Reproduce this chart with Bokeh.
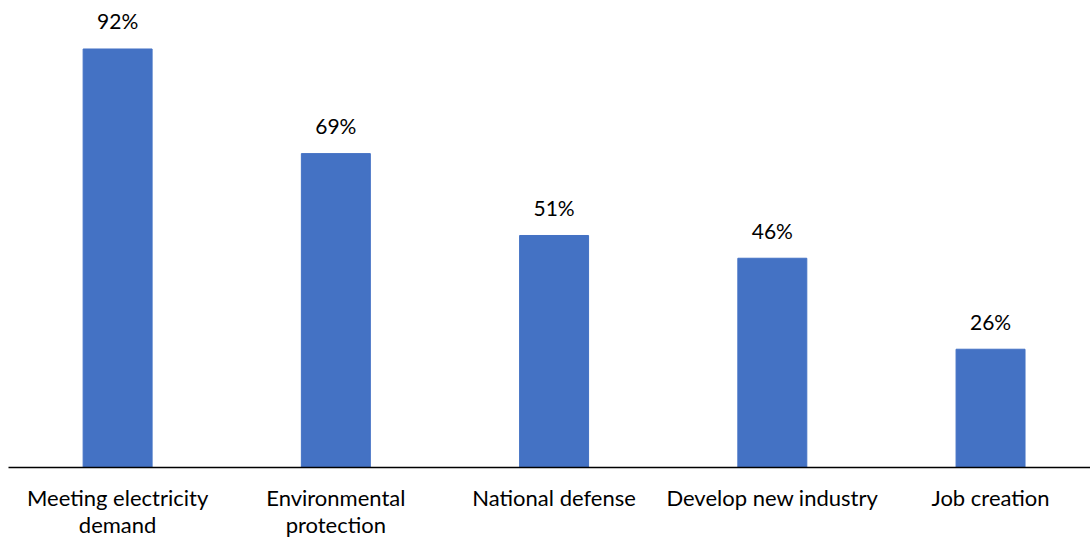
from bokeh.plotting import figure
from bokeh.models import ColumnDataSource, FixedTicker, Range1d
from bokeh.embed import file_html
from bokeh.resources import INLINE
from bokeh.core.properties import value

categories = ["Meeting electricity\ndemand", "Environmental\nprotection", "National defense",
              "Develop new industry", "Job creation"]
shares = [92, 69, 51, 46, 26]
labels = ["92%", "69%", "51%", "46%", "26%"]

xs = [i + 0.5 for i in range(len(categories))]
src = ColumnDataSource(dict(x=xs, top=shares, label=labels))

p = figure(width=1090, height=540, output_backend="svg", toolbar_location=None,
           x_range=Range1d(0, 4.958), y_range=Range1d(0, 100.9),
           min_border_left=8, min_border_right=0, min_border_top=8, min_border_bottom=73)
p.vbar(x="x", top="top", bottom=0, width=0.316, source=src, color="#4472C4")
p.text(x="x", y="top", text="label", source=src, text_align="center",
       text_baseline="alphabetic", y_offset=-28, text_font=value("Lato"),
       text_font_size="21px", text_color="#000000")

p.xaxis.ticker = FixedTicker(ticks=xs)
p.xaxis.major_label_overrides = {x: c for x, c in zip(xs, categories)}
p.xaxis.major_tick_line_color = None
p.xaxis.minor_tick_line_color = None
p.xaxis.major_tick_out = 0
p.xaxis.major_label_standoff = 16
p.xaxis.major_label_text_font = "Lato"
p.xaxis.major_label_text_font_size = "22px"
p.xaxis.major_label_text_line_height = 1.0
p.xaxis.major_label_text_color = "#000000"
p.xaxis.axis_line_color = "#000000"
p.xaxis.axis_line_width = 1.5
p.yaxis.visible = False
p.xgrid.visible = False
p.ygrid.visible = False
p.outline_line_color = None

open("out.html", "w").write(file_html(p, INLINE))
